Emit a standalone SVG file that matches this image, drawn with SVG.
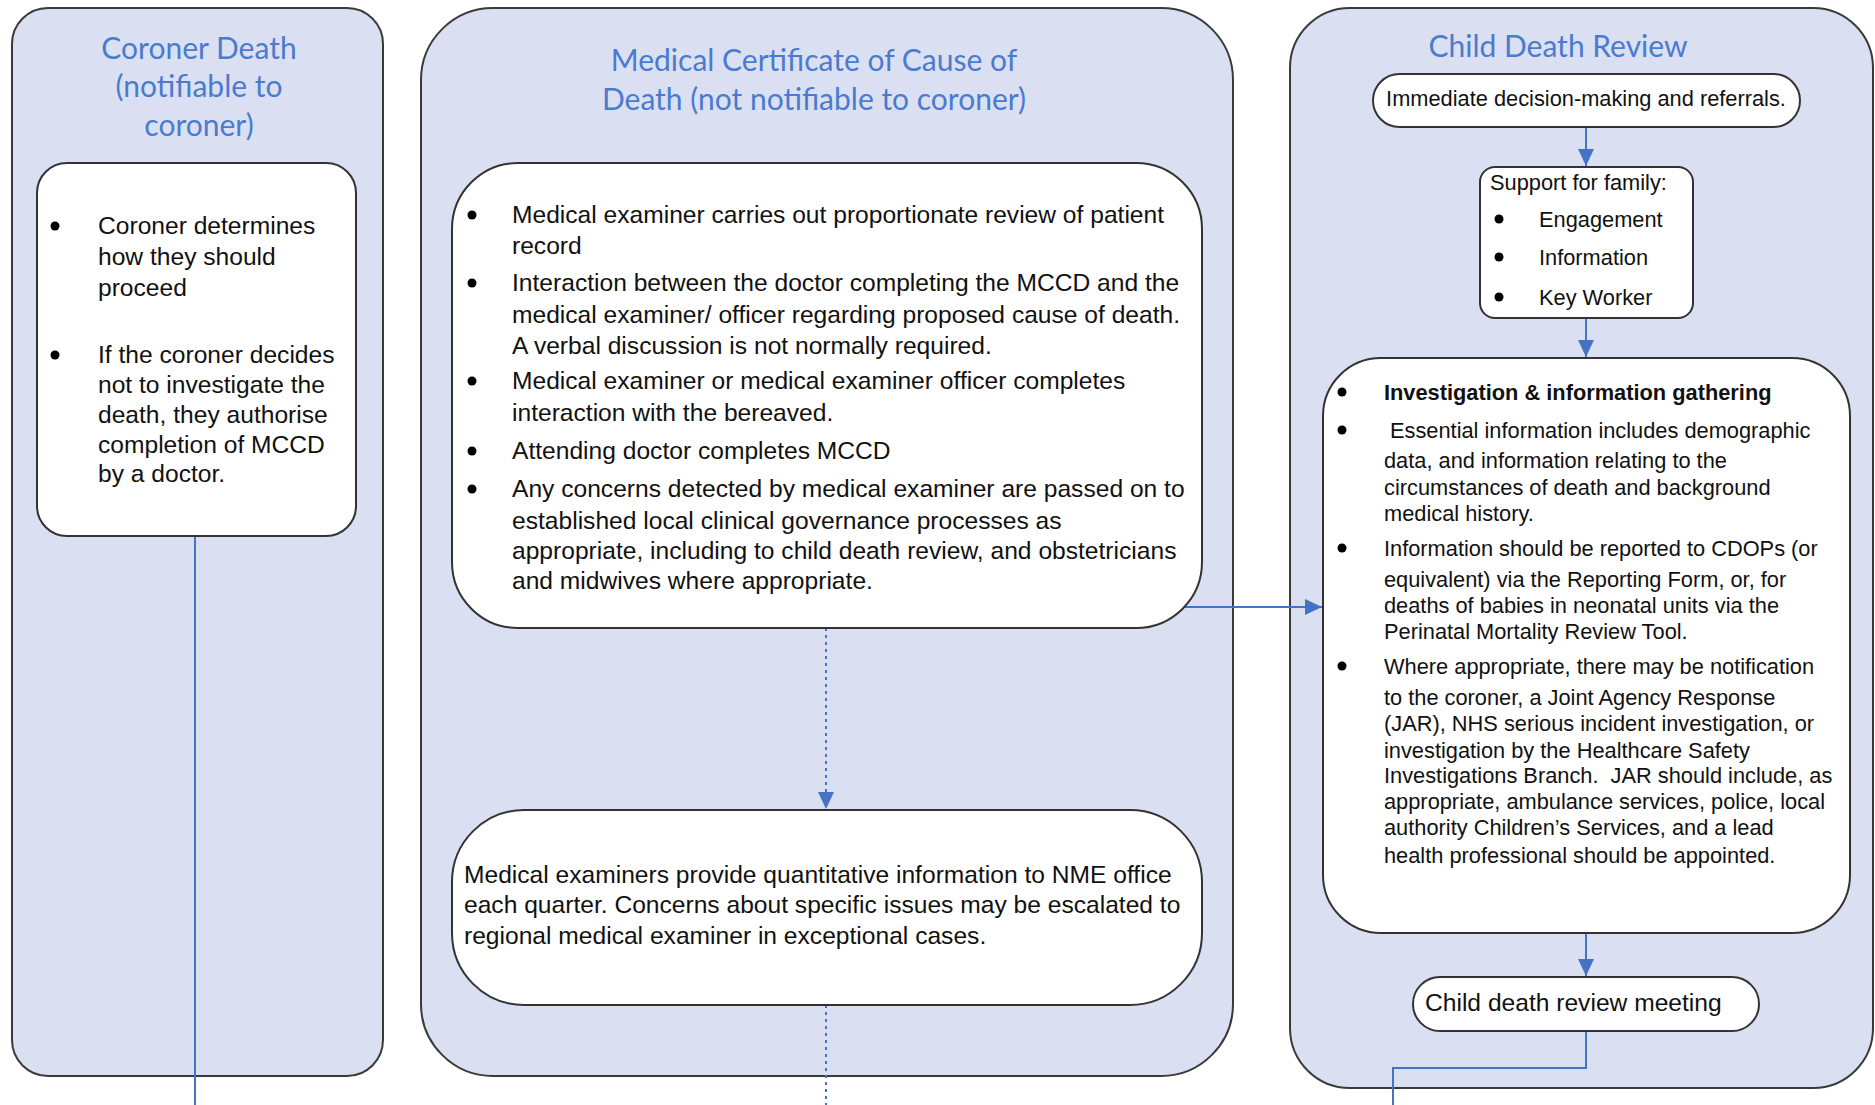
<svg xmlns="http://www.w3.org/2000/svg" width="1875" height="1105" viewBox="0 0 1875 1105">
<style>
.panel{fill:#DAE0F2;stroke:#3a3a3a;stroke-width:2}
.box{fill:#ffffff;stroke:#333333;stroke-width:2}
.title{font-family:Lato,"Liberation Sans",sans-serif;font-size:30px;fill:#4A7BCF;text-anchor:middle}
.t{font-family:"Liberation Sans",Arial,sans-serif;font-size:24.6px;fill:#111111}
.s{font-family:"Liberation Sans",Arial,sans-serif;font-size:21.8px;fill:#111111}
.b{font-weight:bold}
.conn{fill:none;stroke:#4472C4;stroke-width:2}
.dot{stroke-dasharray:3 4}
.bul{fill:#000000}
</style>
<defs>
<marker id="arr" markerUnits="userSpaceOnUse" markerWidth="18" markerHeight="16" refX="17" refY="8" orient="auto">
<path d="M0,0 L17,8 L0,16 Z" fill="#4472C4"/>
</marker>
</defs>

<g id="panel-coroner">
<rect class="panel" x="12" y="8" width="371" height="1068" rx="36"/>
<text class="title" x="199" y="59">Coroner Death</text>
<text class="title" x="199" y="97">(notifiable to</text>
<text class="title" x="199" y="136">coroner)</text>
</g>
<g id="panel-mccd">
<rect class="panel" x="421" y="8" width="812" height="1068" rx="72"/>
<text class="title" x="814" y="71">Medical Certificate of Cause of</text>
<text class="title" x="814" y="110">Death (not notifiable to coroner)</text>
</g>
<g id="panel-cdr">
<rect class="panel" x="1290" y="8" width="583" height="1080" rx="60"/>
<text class="title" x="1558" y="57">Child Death Review</text>
</g>

<g id="connectors">
<line class="conn" x1="195" y1="536" x2="195" y2="1105"/>
<line class="conn dot" x1="826" y1="628" x2="826" y2="809" marker-end="url(#arr)"/>
<line class="conn dot" x1="826" y1="1005" x2="826" y2="1105"/>
<line class="conn" x1="1181" y1="607" x2="1322" y2="607" marker-end="url(#arr)"/>
<line class="conn" x1="1586" y1="127" x2="1586" y2="166" marker-end="url(#arr)"/>
<line class="conn" x1="1586" y1="318" x2="1586" y2="357" marker-end="url(#arr)"/>
<line class="conn" x1="1586" y1="933" x2="1586" y2="976" marker-end="url(#arr)"/>
<path class="conn" d="M1586,1031 V1068 H1393 V1105"/>
</g>

<g id="coroner-steps">
<rect class="box" x="37" y="163" width="319" height="373" rx="30"/>
<circle class="bul" cx="55" cy="226" r="4.5"/>
<text class="t" x="98" y="234">Coroner determines</text>
<text class="t" x="98" y="265">how they should</text>
<text class="t" x="98" y="296">proceed</text>
<circle class="bul" cx="55" cy="355" r="4.5"/>
<text class="t" x="98" y="363">If the coroner decides</text>
<text class="t" x="98" y="393">not to investigate the</text>
<text class="t" x="98" y="423">death, they authorise</text>
<text class="t" x="98" y="453">completion of MCCD</text>
<text class="t" x="98" y="482">by a doctor.</text>
</g>

<g id="mccd-steps">
<rect class="box" x="452" y="163" width="750" height="465" rx="66"/>
<circle class="bul" cx="472" cy="215" r="4.5"/>
<text class="t" x="512" y="223">Medical examiner carries out proportionate review of patient</text>
<text class="t" x="512" y="254">record</text>
<circle class="bul" cx="472" cy="283" r="4.5"/>
<text class="t" x="512" y="291">Interaction between the doctor completing the MCCD and the</text>
<text class="t" x="512" y="323">medical examiner/ officer regarding proposed cause of death.</text>
<text class="t" x="512" y="354">A verbal discussion is not normally required.</text>
<circle class="bul" cx="472" cy="381" r="4.5"/>
<text class="t" x="512" y="389">Medical examiner or medical examiner officer completes</text>
<text class="t" x="512" y="421">interaction with the bereaved.</text>
<circle class="bul" cx="472" cy="451" r="4.5"/>
<text class="t" x="512" y="459">Attending doctor completes MCCD</text>
<circle class="bul" cx="472" cy="489" r="4.5"/>
<text class="t" x="512" y="497">Any concerns detected by medical examiner are passed on to</text>
<text class="t" x="512" y="529">established local clinical governance processes as</text>
<text class="t" x="512" y="559">appropriate, including to child death review, and obstetricians</text>
<text class="t" x="512" y="589">and midwives where appropriate.</text>
</g>

<g id="nme-reporting">
<rect class="box" x="452" y="810" width="750" height="195" rx="72"/>
<text class="t" x="464" y="883">Medical examiners provide quantitative information to NME office</text>
<text class="t" x="464" y="913">each quarter. Concerns about specific issues may be escalated to</text>
<text class="t" x="464" y="944">regional medical examiner in exceptional cases.</text>
</g>

<g id="immediate-decision">
<rect class="box" x="1373" y="74" width="427" height="53" rx="26.5"/>
<text class="s" x="1586" y="106" text-anchor="middle">Immediate decision-making and referrals.</text>
</g>

<g id="support-family">
<rect class="box" x="1480" y="167" width="213" height="151" rx="15"/>
<text class="s" x="1490" y="190">Support for family:</text>
<circle class="bul" cx="1499" cy="219" r="4.5"/>
<text class="s" x="1539" y="227">Engagement</text>
<circle class="bul" cx="1499" cy="257" r="4.5"/>
<text class="s" x="1539" y="265">Information</text>
<circle class="bul" cx="1499" cy="297" r="4.5"/>
<text class="s" x="1539" y="305">Key Worker</text>
</g>

<g id="investigation">
<rect class="box" x="1323" y="358" width="527" height="575" rx="58"/>
<circle class="bul" cx="1342" cy="392" r="4.5"/>
<text class="s b" x="1384" y="400">Investigation &amp; information gathering</text>
<circle class="bul" cx="1342" cy="430" r="4.5"/>
<text class="s" x="1390" y="438">Essential information includes demographic</text>
<text class="s" x="1384" y="468">data, and information relating to the</text>
<text class="s" x="1384" y="495">circumstances of death and background</text>
<text class="s" x="1384" y="521">medical history.</text>
<circle class="bul" cx="1342" cy="548" r="4.5"/>
<text class="s" x="1384" y="556">Information should be reported to CDOPs (or</text>
<text class="s" x="1384" y="587">equivalent) via the Reporting Form, or, for</text>
<text class="s" x="1384" y="613">deaths of babies in neonatal units via the</text>
<text class="s" x="1384" y="639">Perinatal Mortality Review Tool.</text>
<circle class="bul" cx="1342" cy="666" r="4.5"/>
<text class="s" x="1384" y="674">Where appropriate, there may be notification</text>
<text class="s" x="1384" y="705">to the coroner, a Joint Agency Response</text>
<text class="s" x="1384" y="731">(JAR), NHS serious incident investigation, or</text>
<text class="s" x="1384" y="758">investigation by the Healthcare Safety</text>
<text class="s" x="1384" y="783" xml:space="preserve">Investigations Branch.  JAR should include, as</text>
<text class="s" x="1384" y="809">appropriate, ambulance services, police, local</text>
<text class="s" x="1384" y="835">authority Children’s Services, and a lead</text>
<text class="s" x="1384" y="863">health professional should be appointed.</text>
</g>

<g id="cdr-meeting">
<rect class="box" x="1413" y="977" width="346" height="54" rx="27"/>
<text class="t" x="1425" y="1011">Child death review meeting</text>
</g>
</svg>
